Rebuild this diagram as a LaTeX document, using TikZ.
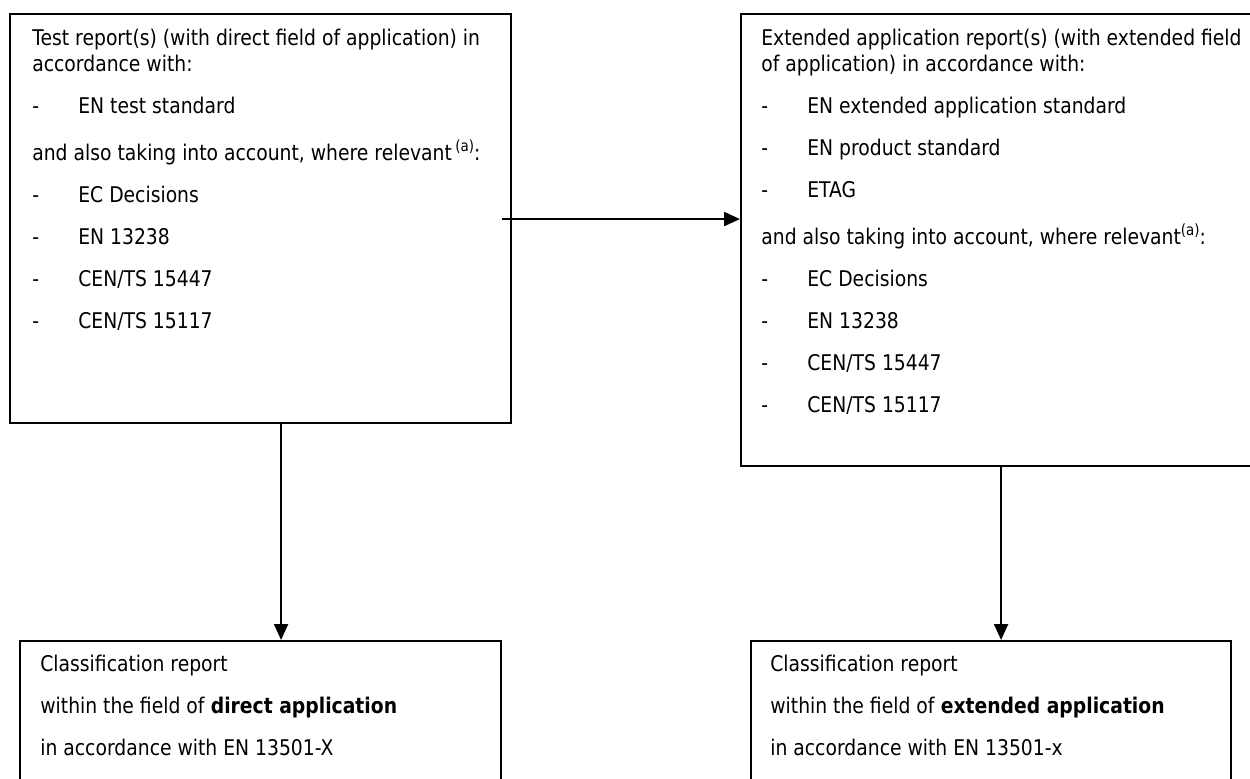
\documentclass[tikz,border=0pt]{standalone}
\usepackage{fontspec}
\setmainfont{DejaVu Sans}[FakeStretch=0.868]
\usetikzlibrary{arrows.meta, positioning, calc}

% dash list entry
\newcommand{\dashitem}[1]{\makebox[0.92cm][l]{-}#1}
% footnote mark
\newcommand{\notemark}{\raisebox{0.42em}{\fontsize{8.8}{9}\selectfont(a)}}

\begin{document}
\begin{tikzpicture}[
    >={Triangle[length=0.32cm, width=0.28cm]},
    % Node Styles
    report/.style={
        draw=black, line width=1.2pt, rectangle,
        inner sep=0pt, anchor=north west
    },
    txt/.style={
        anchor=north west, inner sep=0pt, align=left,
        font=\fontsize{12.3}{14.8}\selectfont
    },
    conn/.style={->, line width=1.2pt}
]
\useasboundingbox (0,0) rectangle (25,-15.56);

% =================================================================
% TOP: REPORTS
% =================================================================

% --- Test report box ---
\node[report, minimum width=10.02cm, minimum height=8.18cm] (testBox) at (0.18,-0.26) {};
\node[txt] (testText) at ($(testBox.north west)+(0.46,-0.31)$) {%
    Test report(s) (with direct field of application) in\\
    accordance with:\\[0.32cm]
    \dashitem{EN test standard}\\[0.42cm]
    and also taking into account, where relevant\,\notemark:\\[0.32cm]
    \dashitem{EC Decisions}\\[0.32cm]
    \dashitem{EN 13238}\\[0.32cm]
    \dashitem{CEN/TS 15447}\\[0.32cm]
    \dashitem{CEN/TS 15117}};

% --- Extended application report box ---
\node[report, minimum width=10.24cm, minimum height=9.04cm] (extBox) at (14.8,-0.26) {};
\node[txt] (extText) at ($(extBox.north west)+(0.42,-0.31)$) {%
    Extended application report(s) (with extended field\\
    of application) in accordance with:\\[0.32cm]
    \dashitem{EN extended application standard}\\[0.32cm]
    \dashitem{EN product standard}\\[0.32cm]
    \dashitem{ETAG}\\[0.42cm]
    and also taking into account, where relevant\notemark:\\[0.32cm]
    \dashitem{EC Decisions}\\[0.32cm]
    \dashitem{EN 13238}\\[0.32cm]
    \dashitem{CEN/TS 15447}\\[0.32cm]
    \dashitem{CEN/TS 15117}};

% =================================================================
% BOTTOM: CLASSIFICATION
% =================================================================

\node[report, minimum width=9.62cm, minimum height=3.3cm] (directBox) at (0.38,-12.8) {};
\node[txt] (directText) at ($(directBox.north west)+(0.42,-0.29)$) {%
    Classification report\\[0.32cm]
    within the field of \textbf{direct application}\\[0.32cm]
    in accordance with EN 13501-X};

\node[report, minimum width=9.6cm, minimum height=3.3cm] (extendedBox) at (15.0,-12.8) {};
\node[txt] (extendedText) at ($(extendedBox.north west)+(0.40,-0.29)$) {%
    Classification report\\[0.32cm]
    within the field of \textbf{extended application}\\[0.32cm]
    in accordance with EN 13501-x};

% --- Connections ---
\coordinate (leftDrop) at ($(testBox.south)+(0.41,0)$);
\coordinate (rightDrop) at ($(extBox.south)+(0.08,0)$);

\draw[conn, shorten <=-0.2cm] ($(testBox.east)+(0,-0.01)$) -- ($(testBox.east -| extBox.west)+(0,-0.01)$);
\draw[conn] (leftDrop) -- (leftDrop |- directBox.north);
\draw[conn] (rightDrop) -- (rightDrop |- extendedBox.north);

\end{tikzpicture}
\end{document}
